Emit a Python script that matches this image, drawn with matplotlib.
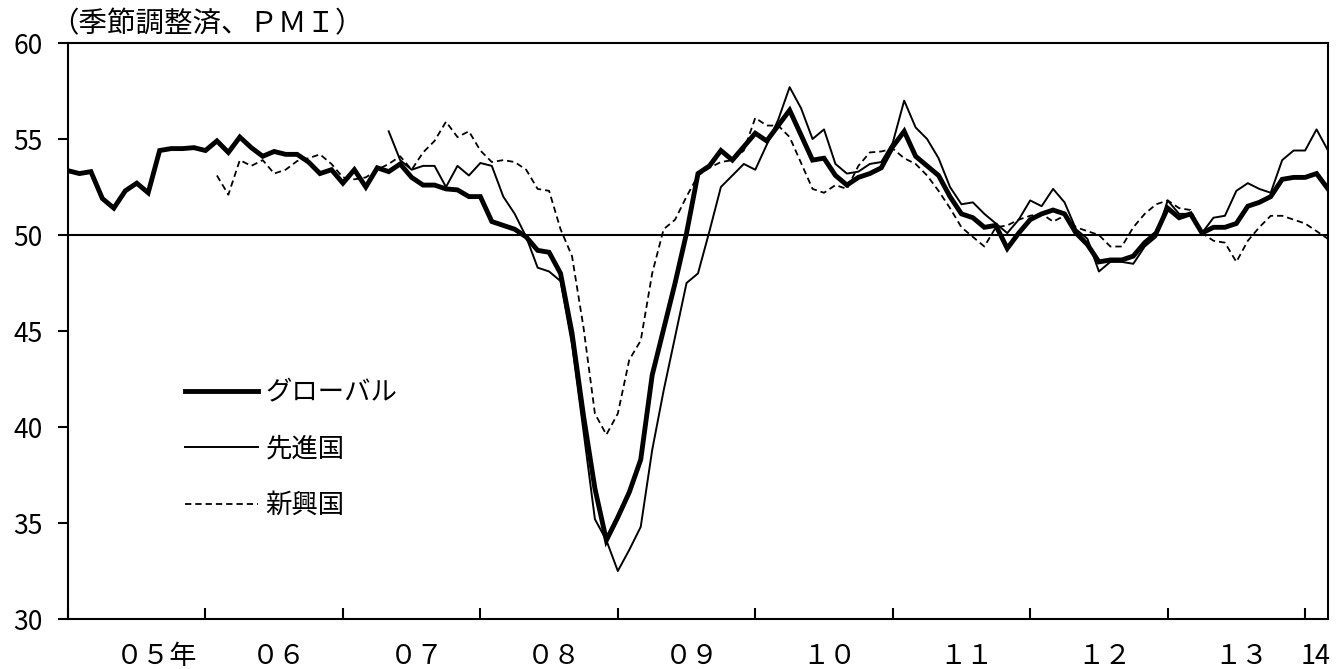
import numpy as np
import pandas as pd
import matplotlib
matplotlib.use("Agg")
import matplotlib.pyplot as plt

plt.rcParams['font.family'] = ['Noto Sans CJK JP', 'DejaVu Sans']

# ---- data (monthly, Jan 2005 - Mar 2014) ----
months = pd.period_range('2005-01', '2014-03', freq='M')

global_pmi = [
    53.35, 53.2, 53.3, 51.9, 51.4, 52.3, 52.7, 52.2, 54.4, 54.5, 54.5, 54.55,   # 2005
    54.4, 54.9, 54.3, 55.1, 54.55, 54.1, 54.35, 54.2, 54.2, 53.8, 53.2, 53.4,    # 2006
    52.7, 53.4, 52.5, 53.5, 53.3, 53.7, 53.0, 52.6, 52.6, 52.4, 52.35, 52.0,     # 2007
    52.0, 50.7, 50.5, 50.3, 49.9, 49.2, 49.1, 48.0, 44.9, 40.6, 36.8, 34.1,      # 2008
    35.3, 36.6, 38.3, 42.7, 45.1, 47.5, 50.1, 53.2, 53.6, 54.4, 53.9, 54.6,      # 2009
    55.3, 54.9, 55.7, 56.5, 55.2, 53.9, 54.0, 53.1, 52.6, 53.0, 53.2, 53.5,      # 2010
    54.6, 55.4, 54.1, 53.6, 53.1, 52.0, 51.1, 50.9, 50.4, 50.5, 49.3, 50.1,      # 2011
    50.8, 51.1, 51.3, 51.1, 50.1, 49.5, 48.6, 48.7, 48.7, 48.9, 49.6, 50.1,      # 2012
    51.4, 50.9, 51.1, 50.1, 50.4, 50.4, 50.6, 51.5, 51.7, 52.0, 52.9, 53.0,      # 2013
    53.0, 53.2, 52.4,                                                            # 2014
]

advanced_start = '2007-05'
advanced_pmi = [
    55.4, 53.9, 53.4, 53.6, 53.6, 52.5, 53.6, 53.1,                              # 2007 May-Dec
    53.75, 53.6, 52.0, 51.1, 49.9, 48.3, 48.1, 47.6, 44.3, 39.8, 35.2, 34.1,     # 2008
    32.5, 33.6, 34.8, 38.8, 41.9, 44.7, 47.5, 48.0, 50.2, 52.5, 53.1, 53.7,      # 2009
    53.4, 54.7, 56.0, 57.7, 56.6, 55.0, 55.5, 53.7, 53.2, 53.3, 53.7, 53.8,      # 2010
    54.8, 57.0, 55.6, 55.0, 54.0, 52.5, 51.6, 51.7, 51.1, 50.6, 50.1, 50.8,      # 2011
    51.8, 51.5, 52.4, 51.7, 50.3, 49.8, 48.1, 48.6, 48.6, 48.5, 49.4, 49.9,      # 2012
    51.8, 51.1, 51.1, 50.1, 50.9, 51.0, 52.3, 52.7, 52.4, 52.2, 53.9, 54.4,      # 2013
    54.4, 55.5, 54.4,                                                            # 2014
]

emerging_start = '2006-02'
emerging_pmi = [
    53.1, 52.1, 53.9, 53.6, 53.9, 53.2, 53.4, 53.85, 54.0, 54.2, 53.7,           # 2006 Feb-Dec
    53.0, 52.9, 53.0, 53.4, 53.7, 54.1, 53.4, 54.3, 54.9, 55.9, 55.1, 55.4,      # 2007
    54.4, 53.8, 53.9, 53.8, 53.4, 52.4, 52.3, 50.3, 48.9, 45.2, 40.7, 39.6,      # 2008
    40.7, 43.5, 44.5, 48.0, 50.3, 50.8, 52.0, 53.1, 53.5, 53.8, 53.9, 54.4,      # 2009
    56.1, 55.7, 55.7, 55.1, 53.75, 52.4, 52.2, 52.6, 52.4, 53.6, 54.3, 54.35,    # 2010
    54.5, 54.0, 53.7, 53.1, 52.3, 51.4, 50.4, 49.9, 49.4, 50.4, 50.5, 50.8,      # 2011
    51.0, 51.1, 50.7, 51.0, 50.4, 50.2, 50.0, 49.4, 49.4, 50.4, 51.1, 51.6,      # 2012
    51.8, 51.4, 51.3, 50.1, 49.7, 49.6, 48.6, 49.7, 50.4, 51.0, 51.0, 50.8,      # 2013
    50.6, 50.2, 49.8,                                                            # 2014
]

series_names = ['グローバル', '先進国', '新興国']
year_labels = ['０５年', '０６', '０７', '０８', '０９', '１０', '１１', '１２', '１３', '14']
title = '（季節調整済、ＰＭＩ）'

# ---- positions ----
x_all = np.arange(len(months))
pos = {str(p): i for i, p in enumerate(months)}
x_adv = np.arange(pos[advanced_start], pos[advanced_start] + len(advanced_pmi))
x_emg = np.arange(pos[emerging_start], pos[emerging_start] + len(emerging_pmi))

W, H = 1338, 669
fig = plt.figure(figsize=(W / 100, H / 100), dpi=100)
ax = fig.add_axes([68 / W, 1 - 619 / H, 1260 / W, 576 / H])

l_emg, = ax.plot(x_emg, emerging_pmi, color='black', lw=1.3, dashes=(3.5, 2.2), zorder=3)
l_adv, = ax.plot(x_adv, advanced_pmi, color='black', lw=1.4, zorder=4)
l_glb, = ax.plot(x_all, global_pmi, color='black', lw=3.5, zorder=5,
                 solid_joinstyle='miter')
ax.axhline(50, color='black', lw=1.5, zorder=2)

ax.set_xlim(0, len(months) - 1)
ax.set_ylim(30, 60)
ax.set_yticks(range(30, 61, 5))
ax.tick_params(axis='y', direction='out', length=7, width=1.5, pad=11,
               labelsize=19, colors='black')

year_starts = [i for i, p in enumerate(months) if p.month == 1]
ax.set_xticks(year_starts)
ax.set_xticklabels([])
ax.tick_params(axis='x', which='major', direction='in', length=8, width=1.5)
label_pos = [ys + 6.45 for ys in year_starts]
label_pos[0] = year_starts[0] + 7.7
label_pos[-1] = year_starts[-1] + 0.9
ax.set_xticks(label_pos, minor=True)
ax.set_xticklabels(year_labels, minor=True)
ax.tick_params(axis='x', which='minor', length=0, pad=17, labelsize=19.5)

for s in ax.spines.values():
    s.set_linewidth(1.5)
    s.set_color('black')

fig.text(50 / W, 1 - 24 / H, title, fontsize=20.5, ha='left', va='center')

ax.legend([l_glb, l_adv, l_emg], series_names, loc='center left',
          bbox_to_anchor=((185 - 68) / 1260, (619 - 449) / 576),
          frameon=False, fontsize=19, handlelength=2.75, handletextpad=0.3,
          labelspacing=1.12, borderpad=0, borderaxespad=0)

fig.savefig('out.png', dpi=100, facecolor='white')
